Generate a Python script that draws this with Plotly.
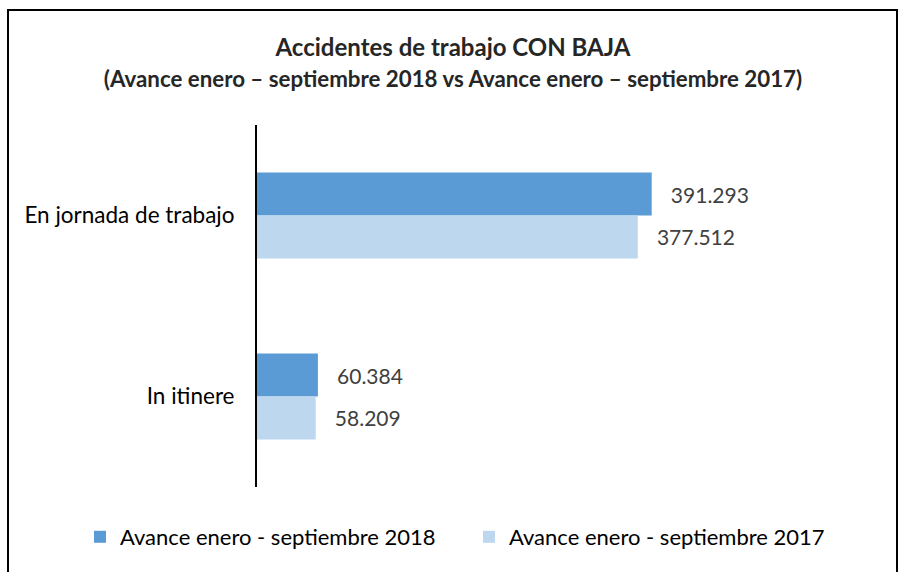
import plotly.graph_objects as go

categories = ["En jornada de trabajo", "In itinere"]
series_names = ["Avance enero - septiembre 2018", "Avance enero - septiembre 2017"]
values_2018 = [391293, 60384]
values_2017 = [377512, 58209]
colors = ["#5B9BD5", "#BDD7EE"]

W, H = 906, 572
L, R, T, B = 257, 26, 125, 85
pw = W - L - R
ph = H - T - B
PX_PER_UNIT = 394.7 / 391293  # horizontal scale of the value axis
XMAX = pw / PX_PER_UNIT

def px_x(x):
    return (x - L) / pw

def px_y(y):
    return (H - B - y) / ph

FONT = "Lato"

fig = go.Figure()
for name, vals, col in zip(series_names, [values_2018, values_2017], colors):
    fig.add_trace(go.Bar(
        y=categories, x=vals, name=name, orientation="h",
        marker=dict(color=col, line=dict(width=0)),
        texttemplate="   %{x:,}", textposition="outside",
        textfont=dict(family=FONT, size=21, color="#404040"),
        cliponaxis=False,
    ))

fig.update_layout(
    width=W, height=H,
    margin=dict(l=L, r=R, t=T, b=B),
    paper_bgcolor="white", plot_bgcolor="white",
    separators=",.",
    barmode="group", bargap=0.525, bargroupgap=0,
    font=dict(family=FONT, color="#000000"),
    title=dict(
        text="<b>Accidentes de trabajo CON BAJA</b><br><span style='font-size:22.3px'><b>(Avance enero – septiembre 2018 vs Avance enero – septiembre 2017)</b></span>",
        x=0.5, xanchor="center", xref="container",
        y=1 - 56 / H, yanchor="middle",
        font=dict(family=FONT, size=24, color="#262626"),
    ),
    xaxis=dict(range=[0, XMAX], visible=False, showgrid=False, zeroline=False),
    yaxis=dict(
        autorange="reversed", showline=True, linecolor="black", linewidth=2,
        ticks="", showgrid=False, ticklabelstandoff=16,
        tickfont=dict(family=FONT, size=22.5, color="#000000"),
    ),
    legend=dict(
        orientation="h", x=px_x(80), xanchor="left",
        y=px_y(537), yanchor="middle",
        font=dict(family=FONT, size=22, color="#000000"),
        entrywidth=344, itemwidth=30, traceorder="normal",
    ),
    showlegend=True,
)

fig.add_shape(
    type="rect", xref="paper", yref="paper",
    x0=px_x(8), x1=px_x(897), y0=px_y(600), y1=px_y(10),
    line=dict(color="#000000", width=2), fillcolor="rgba(0,0,0,0)", layer="below",
)

fig.write_html(
    "out.html",
    config={"displayModeBar": False},
    post_script="document.body.style.margin='0';document.body.style.overflow='hidden';",
)
